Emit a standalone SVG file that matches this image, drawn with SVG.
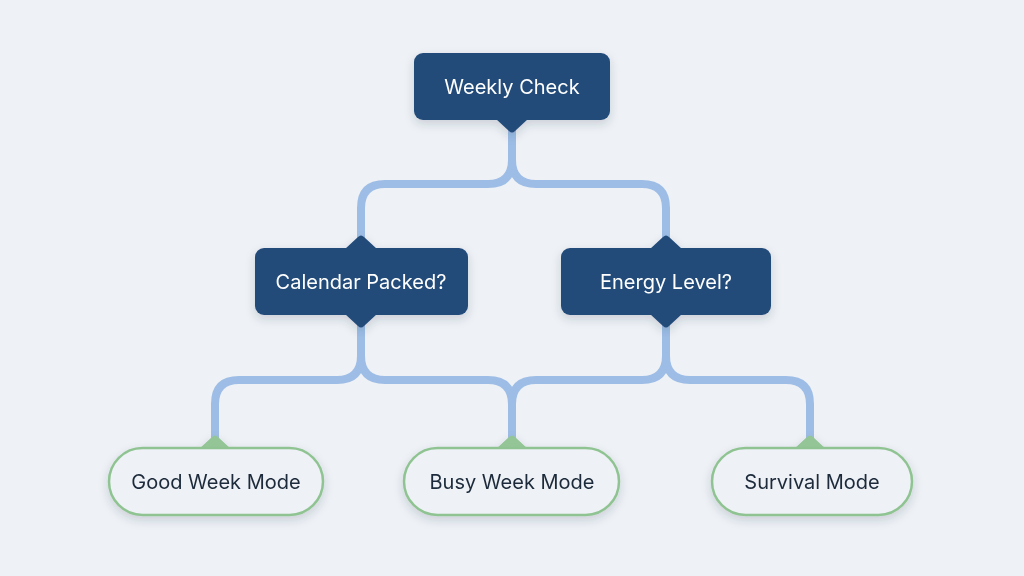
<svg xmlns="http://www.w3.org/2000/svg" width="1024" height="576" viewBox="0 0 1024 576">
  <defs>
    <filter id="sh" x="-20%" y="-30%" width="140%" height="170%">
      <feDropShadow dx="0" dy="4" stdDeviation="5" flood-color="#1f3550" flood-opacity="0.18"/>
    </filter>
  </defs>
  <style>
    .bg { fill: #eef1f5; }
    .dark { fill: #224b7a; }
    .light { fill: #eef1f5; stroke: #8fc492; stroke-width: 2.5; }
    .gtab { fill: #93c596; }
    .conn { fill: none; stroke: #9dbde6; stroke-width: 8; stroke-linecap: round; stroke-linejoin: round; }
    .tw { font-family: Inter, "Noto Sans", "Liberation Sans", sans-serif; font-size: 20px; fill: #ffffff; text-anchor: middle; dominant-baseline: central; }
    .td { font-family: Inter, "Noto Sans", "Liberation Sans", sans-serif; font-size: 20px; fill: #1c2a3a; text-anchor: middle; dominant-baseline: central; }
  </style>
  <rect class="bg" x="0" y="0" width="1024" height="576"/>

  <g id="connectors">
    <path class="conn" d="M512,130 V160 Q512,184 488,184 H385 Q361,184 361,208 V240"/>
    <path class="conn" d="M512,160 Q512,184 536,184 H642 Q666,184 666,208 V240"/>
    <path class="conn" d="M361,320 V356 Q361,380 337,380 H239 Q215,380 215,404 V440"/>
    <path class="conn" d="M361,356 Q361,380 385,380 H488 Q512,380 512,404 V440"/>
    <path class="conn" d="M666,320 V356 Q666,380 642,380 H536 Q512,380 512,404"/>
    <path class="conn" d="M666,356 Q666,380 690,380 H786 Q810,380 810,404 V440"/>
  </g>

  <g id="weekly-check" filter="url(#sh)">
    <rect class="dark" x="414" y="53" width="196" height="67" rx="9"/>
    <path class="dark" d="M496,119 L509,131 Q512,134 515,131 L528,119 Z"/>
    <text class="tw" x="512" y="87">Weekly Check</text>
  </g>

  <g id="calendar-packed" filter="url(#sh)">
    <rect class="dark" x="255" y="248" width="213" height="67" rx="9"/>
    <path class="dark" d="M345,249 L358,237 Q361,234 364,237 L377,249 Z"/>
    <path class="dark" d="M345,314 L358,326 Q361,329 364,326 L377,314 Z"/>
    <text class="tw" x="361" y="282">Calendar Packed?</text>
  </g>

  <g id="energy-level" filter="url(#sh)">
    <rect class="dark" x="561" y="248" width="210" height="67" rx="9"/>
    <path class="dark" d="M650,249 L663,237 Q666,234 669,237 L682,249 Z"/>
    <path class="dark" d="M650,314 L663,326 Q666,329 669,326 L682,314 Z"/>
    <text class="tw" x="666" y="282">Energy Level?</text>
  </g>

  <g id="good-week-mode" filter="url(#sh)">
    <path class="gtab" d="M199,449 L212,437 Q215,434 218,437 L231,449 Z"/>
    <rect class="light" x="109" y="448" width="214" height="67" rx="33.5"/>
    <text class="td" x="216" y="482">Good Week Mode</text>
  </g>

  <g id="busy-week-mode" filter="url(#sh)">
    <path class="gtab" d="M496,449 L509,437 Q512,434 515,437 L528,449 Z"/>
    <rect class="light" x="404" y="448" width="215" height="67" rx="33.5"/>
    <text class="td" x="512" y="482">Busy Week Mode</text>
  </g>

  <g id="survival-mode" filter="url(#sh)">
    <path class="gtab" d="M794,449 L807,437 Q810,434 813,437 L826,449 Z"/>
    <rect class="light" x="712" y="448" width="200" height="67" rx="33.5"/>
    <text class="td" x="812" y="482">Survival Mode</text>
  </g>
</svg>
